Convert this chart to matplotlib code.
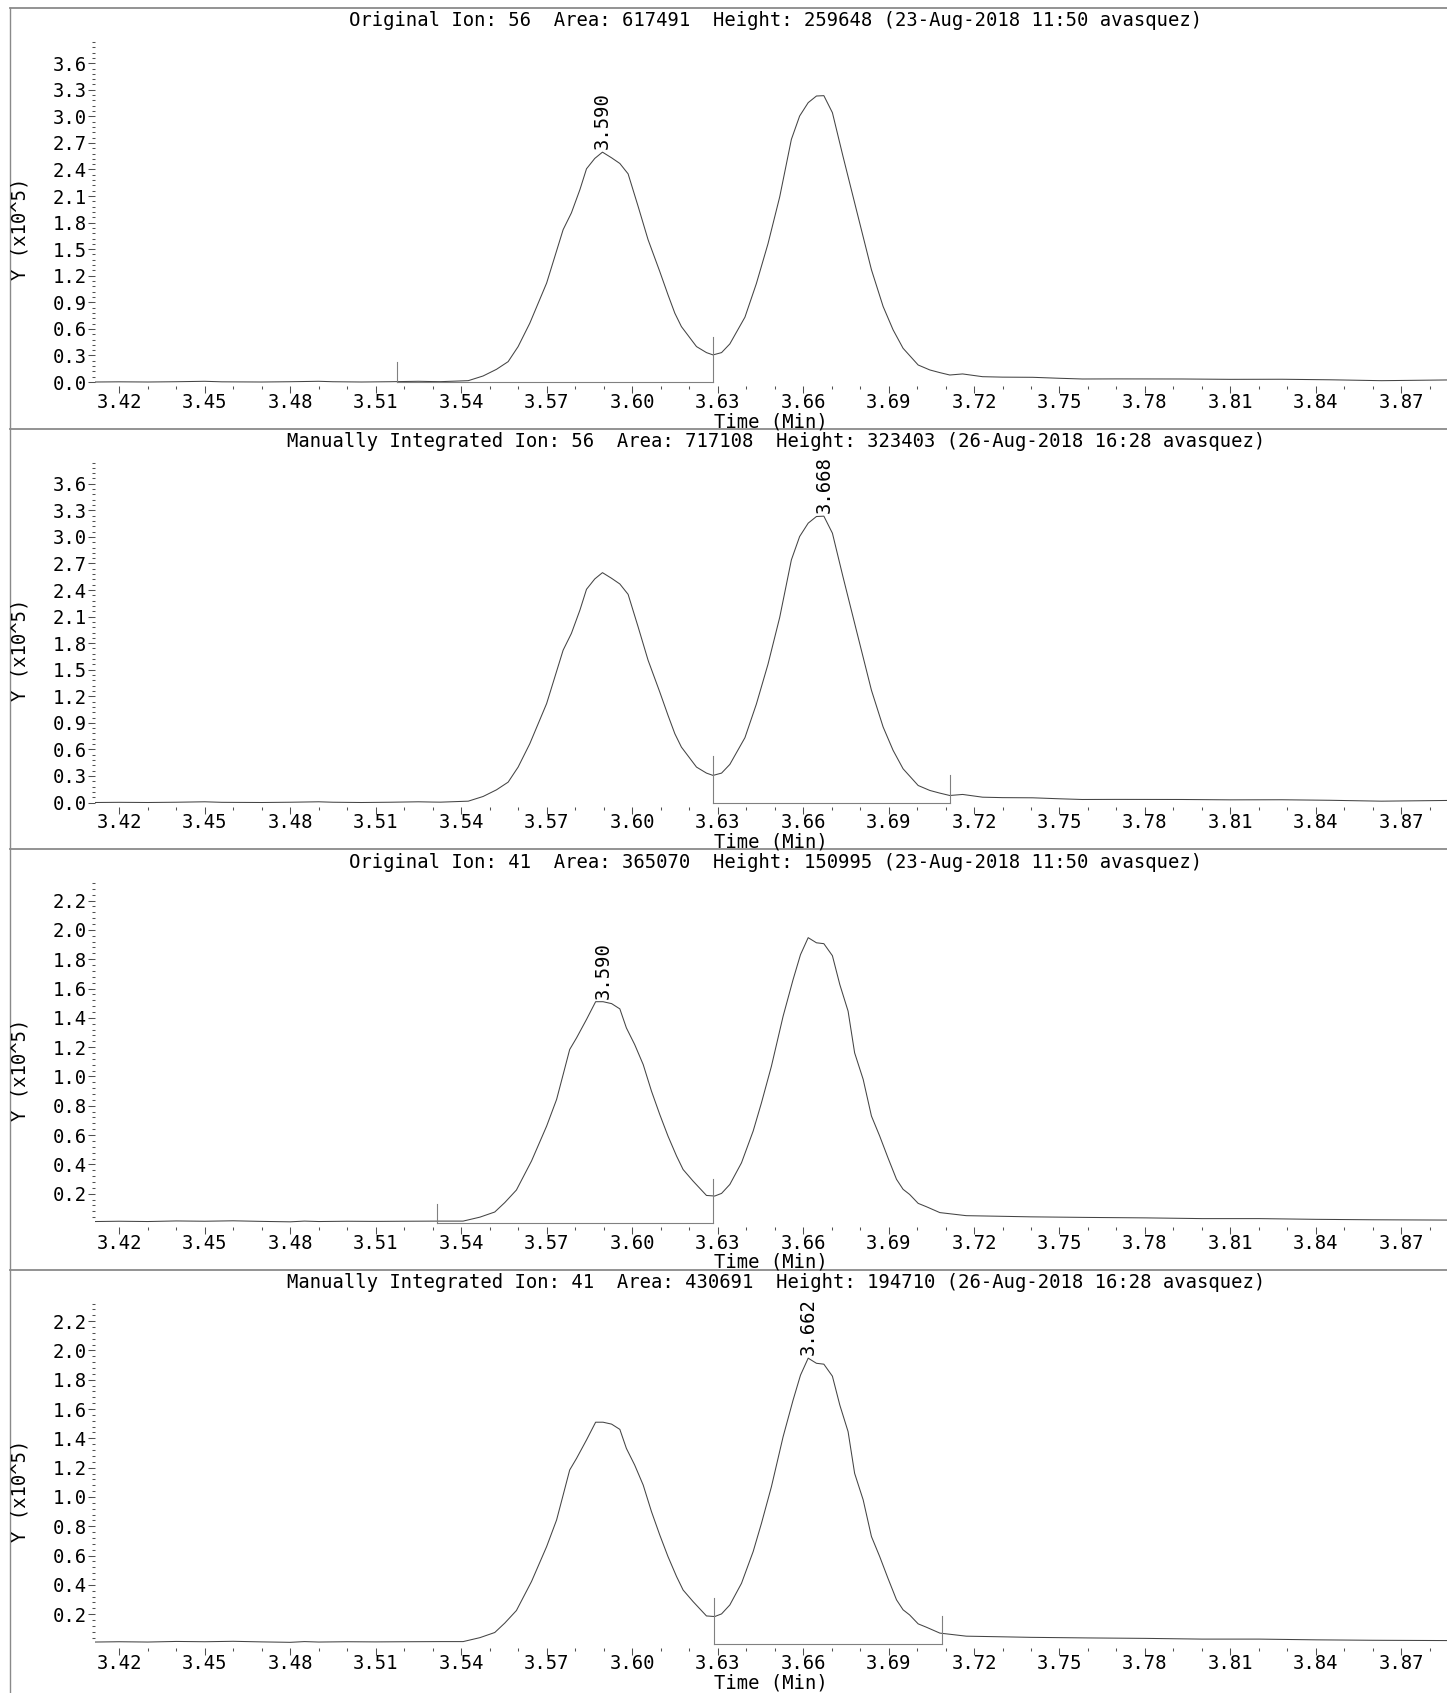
import matplotlib
matplotlib.use("Agg")
import matplotlib.pyplot as plt
from matplotlib.lines import Line2D
from matplotlib.ticker import FixedLocator
import numpy as np

W, H, DPI = 1447, 1693, 100

# ion 56 trace (min, x10^5)
t56 = [3.4115, 3.420, 3.430, 3.440, 3.450, 3.456, 3.470, 3.480, 3.490, 3.495,
       3.505, 3.515, 3.525, 3.530, 3.5328, 3.5425, 3.5477, 3.5524, 3.5565, 3.5600,
       3.5641, 3.5700, 3.5729, 3.5758, 3.5787, 3.5817, 3.5840, 3.5869, 3.5896, 3.5928,
       3.5957, 3.5986, 3.6021, 3.6056, 3.6097, 3.6126, 3.6150, 3.6173, 3.6226, 3.6261,
       3.6284, 3.6314, 3.6343, 3.6396, 3.6436, 3.6477, 3.6518, 3.6559, 3.6588, 3.6618,
       3.6647, 3.6673, 3.6703, 3.6740, 3.6787, 3.6840, 3.6881, 3.6916, 3.6951, 3.7004,
       3.7045, 3.7080, 3.7115, 3.7160, 3.7230, 3.7300, 3.7406, 3.7500, 3.7580, 3.7700,
       3.7930, 3.8100, 3.8280, 3.8450, 3.8630, 3.8860]
y56 = [0.000, 0.002, 0.000, 0.003, 0.008, 0.002, 0.000, 0.003, 0.008, 0.003,
       0.000, 0.003, 0.008, 0.005, 0.004, 0.015, 0.068, 0.143, 0.230, 0.400,
       0.664, 1.117, 1.419, 1.721, 1.910, 2.174, 2.408, 2.525, 2.596, 2.532,
       2.468, 2.351, 1.985, 1.608, 1.249, 0.985, 0.777, 0.626, 0.400, 0.332,
       0.306, 0.332, 0.430, 0.732, 1.110, 1.562, 2.090, 2.740, 3.004, 3.155,
       3.230, 3.234, 3.042, 2.551, 1.947, 1.268, 0.853, 0.589, 0.381, 0.192,
       0.136, 0.106, 0.079, 0.091, 0.060, 0.055, 0.053, 0.042, 0.034, 0.035,
       0.034, 0.030, 0.031, 0.025, 0.015, 0.023]

# ion 41 trace
t41 = [3.4115, 3.420, 3.430, 3.440, 3.450, 3.460, 3.470, 3.480, 3.485, 3.490,
       3.500, 3.510, 3.520, 3.5331, 3.5407, 3.5466, 3.5518, 3.5553, 3.5594, 3.5647,
       3.5700, 3.5735, 3.5758, 3.5781, 3.5805, 3.5840, 3.5872, 3.5898, 3.5928, 3.5957,
       3.5980, 3.6009, 3.6039, 3.6068, 3.6097, 3.6126, 3.6156, 3.6179, 3.6214, 3.6261,
       3.6290, 3.6314, 3.6343, 3.6384, 3.6425, 3.6454, 3.6489, 3.6530, 3.6565, 3.6591,
       3.6618, 3.6647, 3.6673, 3.6703, 3.6729, 3.6758, 3.6781, 3.6811, 3.6840, 3.6869,
       3.6898, 3.6928, 3.6951, 3.6974, 3.7004, 3.7033, 3.7080, 3.7173, 3.7290, 3.7400,
       3.7600, 3.7800, 3.8000, 3.8200, 3.8400, 3.8600, 3.8860]
y41 = [0.010, 0.012, 0.010, 0.014, 0.012, 0.015, 0.011, 0.008, 0.013, 0.010,
       0.012, 0.011, 0.012, 0.013, 0.013, 0.040, 0.075, 0.139, 0.225, 0.423,
       0.661, 0.843, 1.013, 1.184, 1.263, 1.389, 1.510, 1.510, 1.497, 1.461,
       1.331, 1.218, 1.081, 0.900, 0.741, 0.593, 0.457, 0.365, 0.286, 0.188,
       0.184, 0.202, 0.263, 0.411, 0.628, 0.820, 1.070, 1.411, 1.661, 1.831,
       1.947, 1.912, 1.906, 1.824, 1.627, 1.446, 1.161, 0.980, 0.730, 0.593,
       0.445, 0.298, 0.230, 0.195, 0.134, 0.111, 0.071, 0.050, 0.046, 0.042,
       0.038, 0.035, 0.030, 0.030, 0.025, 0.022, 0.020]

titles = [
    "Original Ion: 56  Area: 617491  Height: 259648 (23-Aug-2018 11:50 avasquez)",
    "Manually Integrated Ion: 56  Area: 717108  Height: 323403 (26-Aug-2018 16:28 avasquez)",
    "Original Ion: 41  Area: 365070  Height: 150995 (23-Aug-2018 11:50 avasquez)",
    "Manually Integrated Ion: 41  Area: 430691  Height: 194710 (26-Aug-2018 16:28 avasquez)",
]
peak_labels = ["3.590", "3.668", "3.590", "3.662"]
peak_times = [3.5896, 3.6673, 3.5898, 3.6618]
peak_heights = [2.596, 3.234, 1.510, 1.947]

int_start = [3.5174, 3.6284, 3.5314, 3.6287]
int_end = [3.6284, 3.7115, 3.6284, 3.7089]
mark_left = [0.23, 0.52, 0.13, 0.31]
mark_right = [0.51, 0.31, 0.30, 0.19]

yticks56 = [0.0, 0.3, 0.6, 0.9, 1.2, 1.5, 1.8, 2.1, 2.4, 2.7, 3.0, 3.3, 3.6]
yticks41 = [0.2, 0.4, 0.6, 0.8, 1.0, 1.2, 1.4, 1.6, 1.8, 2.0, 2.2]
xticks = [3.42, 3.45, 3.48, 3.51, 3.54, 3.57, 3.60, 3.63, 3.66, 3.69, 3.72, 3.75, 3.78, 3.81, 3.84, 3.87]

XMIN, XMAX = 3.4115, 3.886
FS = 13.6
plt.rcParams["font.family"] = ["DejaVu Sans Mono"]

TRACE = "#444444"
GREY = "#808080"
TICK = "#505050"

fig = plt.figure(figsize=(W / DPI, H / DPI), dpi=DPI)
step = 420.5
left_px = 95

for k in range(4):
    t, v = (t56, y56) if k < 2 else (t41, y41)
    ymax = 3.84 if k < 2 else 2.32
    zero_px = 382 + k * step
    ppu = 340 / ymax
    gap = 4
    bottom_px = zero_px + gap
    top_px = zero_px - 340
    ax = fig.add_axes([left_px / W, 1 - bottom_px / H, (W - left_px) / W,
                       (bottom_px - top_px) / H])
    ax.set_xlim(XMIN, XMAX)
    ax.set_ylim(-gap / ppu, ymax)
    for s in ax.spines.values():
        s.set_visible(False)
    ax.patch.set_alpha(0)

    ax.plot(t, v, color=TRACE, lw=0.75)
    # integration markers and baseline
    ax.plot([int_start[k], int_start[k]], [0, mark_left[k]], color=GREY, lw=0.8)
    ax.plot([int_start[k], int_end[k]], [0, 0], color=GREY, lw=0.8)
    ax.plot([int_end[k], int_end[k]], [0, mark_right[k]], color=GREY, lw=0.8)

    ax.annotate(peak_labels[k], (peak_times[k], peak_heights[k]), xytext=(0, 2),
                textcoords="offset points", rotation=90, ha="center", va="bottom",
                fontsize=FS)

    ax.xaxis.set_major_locator(FixedLocator(xticks))
    ax.set_xticklabels([f"{x:.2f}" for x in xticks])
    ax.xaxis.set_minor_locator(FixedLocator(np.arange(3.42, 3.885, 0.01)))
    if k < 2:
        yt = yticks56
        ym = np.arange(0.0, 3.845, 0.06)
    else:
        yt = yticks41
        ym = np.arange(0.04, 2.325, 0.04)
    ax.yaxis.set_major_locator(FixedLocator(yt))
    ax.set_yticklabels([f"{y:.1f}" for y in yt])
    ax.yaxis.set_minor_locator(FixedLocator(ym))

    ax.tick_params(axis="both", which="major", direction="out", length=5,
                   width=0.75, color=TICK, labelsize=FS)
    ax.tick_params(axis="both", which="minor", direction="out", length=2.2,
                   width=0.75, color=TICK)
    ax.tick_params(axis="x", which="major", pad=0)
    ax.tick_params(axis="y", which="major", pad=1)

    top_border = 8 + k * step
    fig.text(776 / W, 1 - (top_border + 13) / H, titles[k], ha="center",
             va="center", fontsize=FS)
    fig.text(20 / W, 1 - (229 + k * step) / H, "Y (x10^5)", rotation=90,
             ha="center", va="center", fontsize=FS)
    fig.text(771 / W, 1 - (421.5 + k * step) / H, "Time (Min)", ha="center",
             va="center", fontsize=FS)
    fig.add_artist(Line2D([10 / W, 1], [1 - top_border / H] * 2,
                          transform=fig.transFigure, color="#8a8a8a", lw=1.3))

fig.add_artist(Line2D([10 / W] * 2, [0, 1 - 8 / H], transform=fig.transFigure,
                      color="#8a8a8a", lw=1.0))

fig.savefig("out.png", dpi=DPI, facecolor="white")
